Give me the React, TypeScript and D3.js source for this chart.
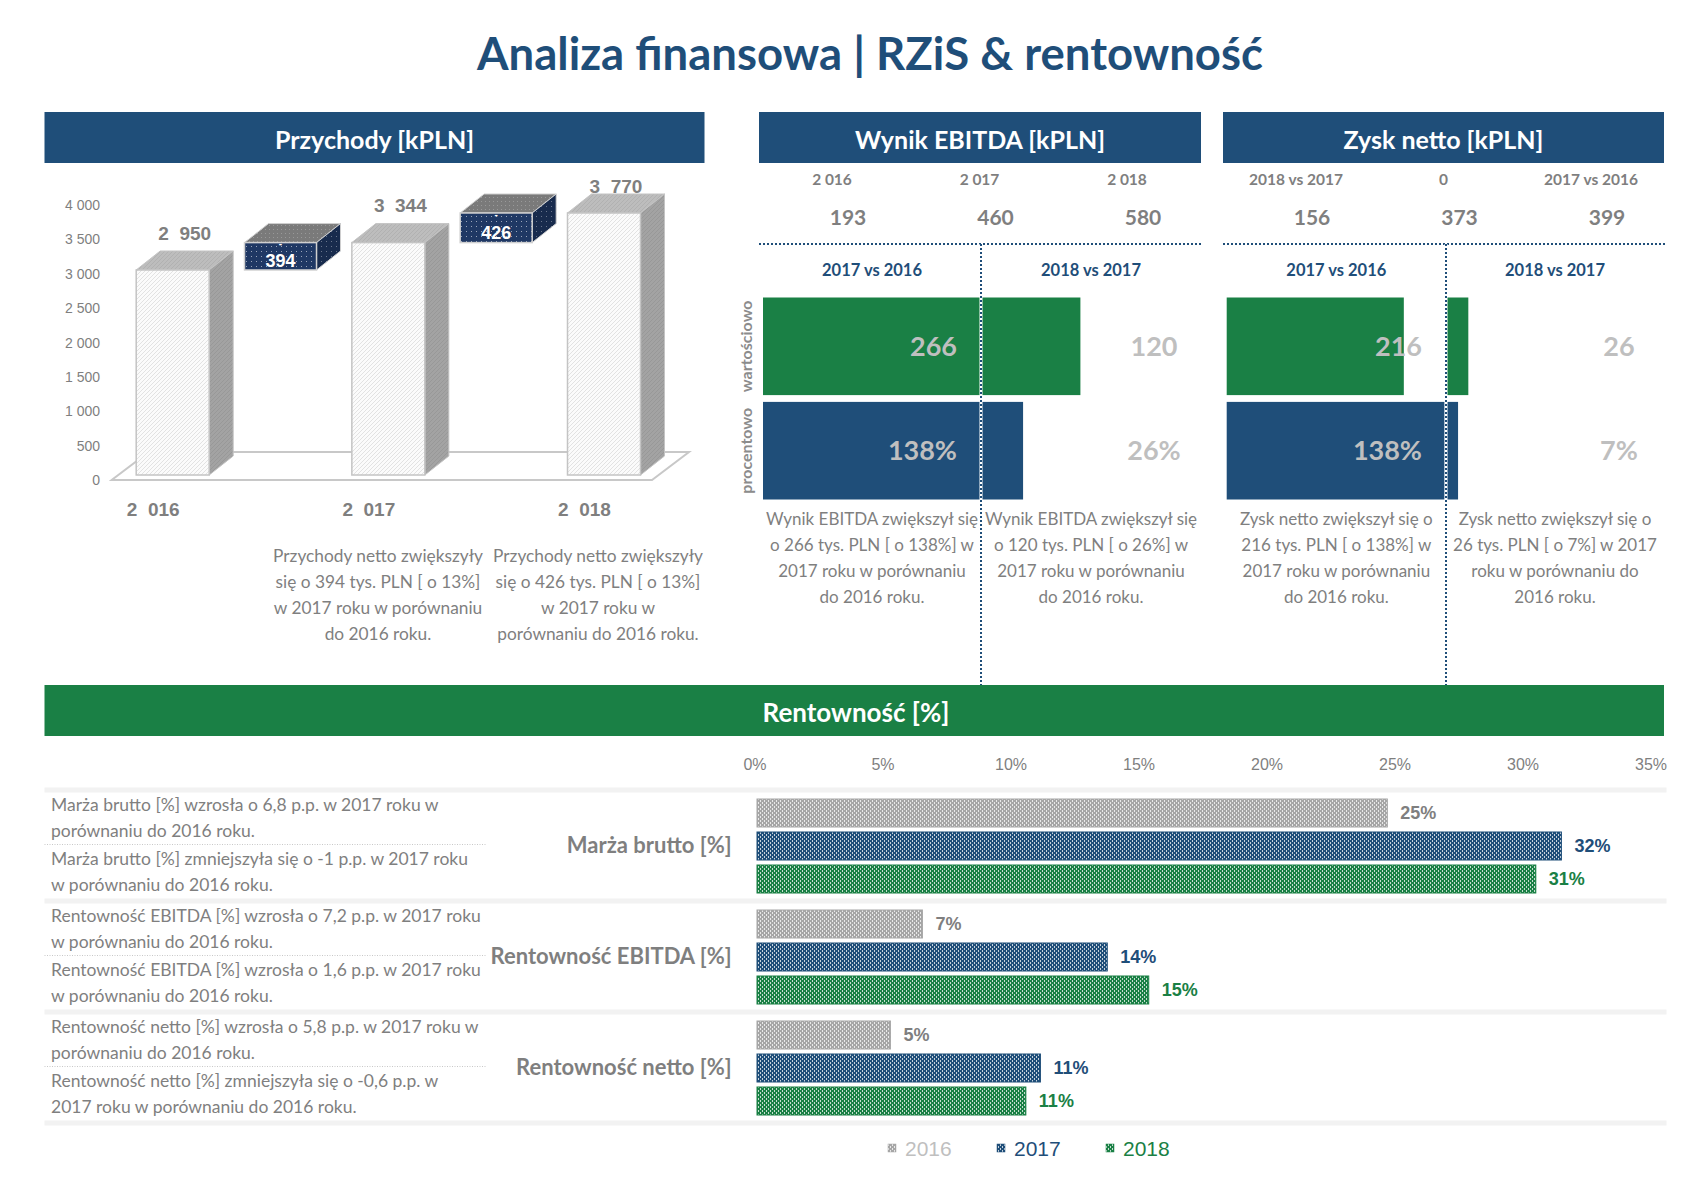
import React from 'react';
import * as d3 from 'd3';

const W = 1702;
const H = 1190;
const NAVY = '#1F4E79';
const DARKNAVY = '#1F3864';
const GREEN = '#1A8045';
const GRAY = '#7F7F7F';
const LIGHT = '#BFBFBF';
const SANS = 'Lato, "Open Sans", sans-serif';
const ARIAL = '"Liberation Sans", Arial, sans-serif';

// ---------- data ----------
const revenueYears = [2016, 2017, 2018];
const revenueValues = [2950, 3344, 3770];
const revenueTicks = [0, 500, 1000, 1500, 2000, 2500, 3000, 3500, 4000];
const revenueComments = [
  ['Przychody netto zwiększyły', 'się o 394 tys. PLN [ o 13%]', 'w 2017 roku w porównaniu', 'do 2016 roku.'],
  ['Przychody netto zwiększyły', 'się o 426 tys. PLN [ o 13%]', 'w 2017 roku w', 'porównaniu do 2016 roku.'],
];

const changePeriods = ['2017 vs 2016', '2018 vs 2017'];
const changeRows = ['wartościowo', 'procentowo'];

const ebitdaColumns = ['2 016', '2 017', '2 018'];
const ebitdaValues = [193, 460, 580];
const ebitdaChangeValue = [266, 120];
const ebitdaChangePct = [138, 26];
const ebitdaComments = [
  ['Wynik EBITDA zwiększył się', 'o 266 tys. PLN [ o 138%] w', '2017 roku w porównaniu', 'do 2016 roku.'],
  ['Wynik EBITDA zwiększył się', 'o 120 tys. PLN [ o 26%] w', '2017 roku w porównaniu', 'do 2016 roku.'],
];

const netColumns = ['2018 vs 2017', '0', '2017 vs 2016'];
const netValues = [156, 373, 399];
const netChangeValue = [216, 26];
const netChangePct = [138, 7];
const netComments = [
  ['Zysk netto zwiększył się o', '216 tys. PLN [ o 138%] w', '2017 roku w porównaniu', 'do 2016 roku.'],
  ['Zysk netto zwiększył się o', '26 tys. PLN [ o 7%] w 2017', 'roku w porównaniu do', '2016 roku.'],
];

const rentCategories = ['Marża brutto [%]', 'Rentowność EBITDA [%]', 'Rentowność netto [%]'];
const rentYears = ['2016', '2017', '2018'];
const rent2016 = [24.7, 6.54, 5.29];
const rent2017 = [31.5, 13.76, 11.15];
const rent2018 = [30.5, 15.38, 10.58];
const rentTicks = [0, 5, 10, 15, 20, 25, 30, 35];
const rentComments = [
  [
    ['Marża brutto [%] wzrosła o 6,8 p.p. w 2017 roku w', 'porównaniu do 2016 roku.'],
    ['Marża brutto [%] zmniejszyła się o -1 p.p. w 2017 roku', 'w porównaniu do 2016 roku.'],
  ],
  [
    ['Rentowność EBITDA [%] wzrosła o 7,2 p.p. w 2017 roku', 'w porównaniu do 2016 roku.'],
    ['Rentowność EBITDA [%] wzrosła o 1,6 p.p. w 2017 roku', 'w porównaniu do 2016 roku.'],
  ],
  [
    ['Rentowność netto [%] wzrosła o 5,8 p.p. w 2017 roku w', 'porównaniu do 2016 roku.'],
    ['Rentowność netto [%] zmniejszyła się o -0,6 p.p. w', '2017 roku w porównaniu do 2016 roku.'],
  ],
];

const rentSeries = [
  { year: rentYears[0], values: rent2016, color: '#A6A6A6', label: GRAY, legend: LIGHT, pat: 'pat16' },
  { year: rentYears[1], values: rent2017, color: NAVY, label: NAVY, legend: NAVY, pat: 'pat17' },
  { year: rentYears[2], values: rent2018, color: GREEN, label: GREEN, legend: GREEN, pat: 'pat18' },
];

const wideFmt = d3.formatLocale({ decimal: ',', thousands: '\u00A0\u00A0', grouping: [3], currency: ['', ''] }).format(',');
const tickFmt = d3.formatLocale({ decimal: ',', thousands: '\u00A0', grouping: [3], currency: ['', ''] }).format(',');

const Txt = (p: any) => {
  const { children, ...rest } = p;
  return (
    <text dy="0.36em" fontFamily={SANS} {...rest}>
      {children}
    </text>
  );
};

// ---------- revenue panel ----------
function RevenuePanel() {
  const yAxis = d3.scaleLinear().domain([0, 4000]).range([480, 205]);
  const yFront = d3.scaleLinear().domain([0, 4000]).range([475, 197]);
  const x = d3.scalePoint<number>().domain(revenueYears).range([172.7, 604]);
  const fw = 73;
  const dx = 24;
  const dy = -19;
  const base = yFront(0);
  const floorL = (x(revenueYears[0]) as number) - 61;
  const floorR = (x(revenueYears[2]) as number) + 48;
  const fy = yAxis(0);

  const box = (cx: number, top: number, bottom: number, w: number, front: string, side: string, topFill: string, stroke: string, key: string) => {
    const x0 = cx - w / 2;
    const x1 = cx + w / 2;
    return (
      <g key={key}>
        <polygon points={`${x0},${top} ${x0 + dx},${top + dy} ${x1 + dx},${top + dy} ${x1},${top}`} fill={topFill} stroke={stroke} strokeWidth={1} />
        <polygon points={`${x1},${top} ${x1 + dx},${top + dy} ${x1 + dx},${bottom + dy} ${x1},${bottom}`} fill={side} stroke={stroke} strokeWidth={1} />
        <rect x={x0} y={top} width={w} height={bottom - top} fill={front} stroke={stroke} strokeWidth={1.5} />
      </g>
    );
  };

  return (
    <g>
      <rect x={44.5} y={112} width={660} height={51} fill={NAVY} />
      <Txt x={374.5} y={140} textAnchor="middle" fill="#fff" fontWeight="bold" fontSize={25}>Przychody [kPLN]</Txt>

      {revenueTicks.map((t) => (
        <text key={t} x={100} y={yAxis(t)} dy="0.36em" textAnchor="end" fontFamily={ARIAL} fontSize={14} fill={GRAY}>
          {tickFmt(t)}
        </text>
      ))}

      <polygon
        points={`${floorL},${fy} ${floorR},${fy} ${floorR + 37},${fy - 28} ${floorL + 37},${fy - 28}`}
        fill="#fff"
        stroke="#C8C8C8"
        strokeWidth={2}
      />

      {revenueValues.map((v, i) => {
        const cx = x(revenueYears[i]) as number;
        return box(cx, yFront(v), base, fw, 'url(#hatchFront)', 'url(#hatchSide)', 'url(#hatchTop)', '#C4C4C4', 'b' + i);
      })}

      {revenueValues.slice(1).map((v, i) => {
        const prev = revenueValues[i];
        const cx = ((x(revenueYears[i]) as number) + (x(revenueYears[i + 1]) as number)) / 2;
        const top = yFront(v);
        const bottom = yFront(prev);
        return (
          <g key={'d' + i}>
            {box(cx, top, bottom, 72, 'url(#dotNavy)', 'url(#dotSide)', 'url(#dotTop)', '#D0D0D0', 'db' + i)}
            <text x={cx} y={top + 1} dy="0.36em" textAnchor="middle" fontFamily={ARIAL} fontWeight="bold" fontSize={10} fill="#fff">-</text>
            <text x={cx} y={(top + bottom) / 2 + 4.5} dy="0.36em" textAnchor="middle" fontFamily={ARIAL} fontWeight="bold" fontSize={18} fill="#fff">
              {v - prev}
            </text>
          </g>
        );
      })}

      {revenueValues.map((v, i) => {
        const cx = x(revenueYears[i]) as number;
        return (
          <text key={'l' + i} x={cx + 12} y={Math.max(yFront(v) - 37, 186)} dy="0.36em" textAnchor="middle" fontFamily={ARIAL} fontWeight="bold" fontSize={19} fill={GRAY}>
            {wideFmt(v)}
          </text>
        );
      })}

      {revenueYears.map((yr, i) => (
        <text key={'y' + i} x={(x(yr) as number) - 19.5} y={509} dy="0.36em" textAnchor="middle" fontFamily={ARIAL} fontWeight="bold" fontSize={19} fill={GRAY}>
          {wideFmt(yr)}
        </text>
      ))}

      {revenueComments.map((lines, j) =>
        lines.map((l, k) => (
          <Txt key={'c' + j + k} x={j === 0 ? 378 : 598} y={556 + k * 26} textAnchor="middle" fontSize={17.3} fill={GRAY}>
            {l}
          </Txt>
        ))
      )}
    </g>
  );
}

// ---------- change panels ----------
function ChangePanel(props: any) {
  const { title, hx0, hx1, left, divider, columns, values, changeValue, changePct, comments, rowLabels } = props;
  const col = d3.scalePoint<number>().domain([0, 1, 2]).range([hx0 + 73, hx0 + 368]);
  const xVal = d3.scaleLinear().domain([0, 400]).range([0, 328]);
  const xPct = d3.scaleLinear().domain([0, 150]).range([0, 237]);
  const yRow = d3.scaleBand().domain(changeRows).range([297.5, 499.5]).paddingInner(0.065);
  const bw = yRow.bandwidth();
  const rowData = [
    { key: changeRows[0], vals: changeValue, scale: xVal, color: GREEN, fmt: (v: number) => `${v}` },
    { key: changeRows[1], vals: changePct, scale: xPct, color: NAVY, fmt: (v: number) => `${v}%` },
  ];
  const colCenters = [(left + divider) / 2, (divider + hx1) / 2];

  return (
    <g>
      <rect x={hx0} y={112} width={hx1 - hx0} height={51} fill={NAVY} />
      <Txt x={(hx0 + hx1) / 2} y={140} textAnchor="middle" fill="#fff" fontWeight="bold" fontSize={25}>{title}</Txt>

      {columns.map((c: string, i: number) => (
        <Txt key={'h' + i} x={col(i)} y={179} textAnchor="middle" fontWeight="bold" fontSize={15.5} fill={GRAY}>{c}</Txt>
      ))}
      {values.map((v: number, i: number) => (
        <Txt key={'v' + i} x={(col(i) as number) + 16} y={217} textAnchor="middle" fontWeight="bold" fontSize={21} fill={GRAY}>{v}</Txt>
      ))}

      <line x1={hx0} x2={hx1 + 2} y1={244} y2={244} stroke={NAVY} strokeWidth={2} strokeDasharray="2,2" />

      {changePeriods.map((p, i) => (
        <Txt key={'p' + i} x={colCenters[i]} y={270} textAnchor="middle" fontWeight="bold" fontSize={16.5} fill={NAVY}>{p}</Txt>
      ))}

      {rowData.map((r) => (
        <g key={r.key}>
          <rect x={left} y={yRow(r.key)} width={r.scale(r.vals[0])} height={bw} fill={r.color} />
          <rect x={divider + 1} y={yRow(r.key)} width={r.scale(r.vals[1])} height={bw} fill={r.color} />
        </g>
      ))}

      <line x1={divider} x2={divider} y1={244} y2={686} stroke="#fff" strokeWidth={3} />
      <line x1={divider} x2={divider} y1={244} y2={686} stroke={NAVY} strokeWidth={2} strokeDasharray="2,2" />

      {rowData.map((r) => {
        const cy = (yRow(r.key) as number) + bw / 2;
        return (
          <g key={'t' + r.key}>
            <Txt x={divider - 24} y={cy} textAnchor="end" fontWeight="bold" fontSize={27} fill={LIGHT}>{r.fmt(r.vals[0])}</Txt>
            <Txt x={divider + 173} y={cy} textAnchor="middle" fontWeight="bold" fontSize={27} fill={LIGHT}>{r.fmt(r.vals[1])}</Txt>
          </g>
        );
      })}

      {rowLabels &&
        changeRows.map((r) => {
          const cy = (yRow(r) as number) + bw / 2;
          return (
            <text key={'rl' + r} transform={`translate(746,${cy}) rotate(-90)`} dy="0.36em" textAnchor="middle" fontFamily={SANS} fontWeight="bold" fontSize={16} fill="#8C8C8C">
              {r}
            </text>
          );
        })}

      {comments.map((lines: string[], j: number) =>
        lines.map((l, k) => (
          <Txt key={'c' + j + k} x={colCenters[j]} y={518.5 + k * 26} textAnchor="middle" fontSize={17} fill={GRAY}>{l}</Txt>
        ))
      )}
    </g>
  );
}

// ---------- profitability panel ----------
function RentPanel() {
  const x = d3.scaleLinear().domain([0, 35]).range([755, 1651]);
  const yG = d3.scaleBand().domain(rentCategories).range([790, 1123]);
  const yIn = d3.scaleBand().domain(rentYears).range([9, 103]).paddingInner(5 / 33);
  const step = yG.step();
  const seps = [...rentCategories.map((c) => yG(c) as number), 1123];

  return (
    <g>
      <rect x={44.5} y={685} width={1619.5} height={51} fill={GREEN} />
      <Txt x={856} y={713} textAnchor="middle" fill="#fff" fontWeight="bold" fontSize={26}>Rentowność [%]</Txt>

      {rentTicks.map((t) => (
        <text key={t} x={x(t)} y={764} dy="0.36em" textAnchor="middle" fontFamily={ARIAL} fontSize={16} fill={GRAY}>{t}%</text>
      ))}

      {seps.map((s, i) => (
        <rect key={'s' + i} x={44.5} y={s - 2.5} width={1622} height={5} fill="#F2F2F2" />
      ))}

      {rentCategories.map((c, ci) => {
        const g0 = yG(c) as number;
        return (
          <g key={c}>
            <Txt x={731.6} y={g0 + step / 2} textAnchor="end" fontWeight="bold" fontSize={22} fill={GRAY}>{c}</Txt>
            <line x1={44.5} x2={486} y1={g0 + 54.5} y2={g0 + 54.5} stroke="#C8C8C8" strokeWidth={1} strokeDasharray="1,1.5" />
            {rentComments[ci].map((lines, j) =>
              lines.map((l, k) => (
                <Txt key={'rc' + j + k} x={51} y={g0 + 14.4 + j * 54.2 + k * 26} fontSize={17.5} fill={GRAY}>{l}</Txt>
              ))
            )}
            {rentSeries.map((s) => {
              const v = s.values[ci];
              const by = g0 + (yIn(s.year) as number);
              const bh = yIn.bandwidth();
              return (
                <g key={s.year}>
                  <rect x={x(0) + 2} y={by} width={x(v) - x(0) - 2} height={bh} fill={`url(#${s.pat})`} stroke={s.color} strokeWidth={1} />
                  <text x={x(v) + 13} y={by + bh / 2} dy="0.36em" fontFamily={ARIAL} fontWeight="bold" fontSize={18} fill={s.label}>
                    {Math.round(v)}%
                  </text>
                </g>
              );
            })}
          </g>
        );
      })}

      {rentSeries.map((s, i) => {
        const lx = 888 + i * 109;
        return (
          <g key={'lg' + s.year}>
            <rect x={lx} y={1144} width={8} height={8} fill={`url(#${s.pat})`} stroke={s.color} strokeWidth={0.5} />
            <text x={lx + 17} y={1148} dy="0.36em" fontFamily={ARIAL} fontSize={21} fill={s.legend}>{s.year}</text>
          </g>
        );
      })}
    </g>
  );
}

function Patterns() {
  const dash = (id: string, color: string) => (
    <pattern id={id} width={4} height={4} patternUnits="userSpaceOnUse">
      <rect width={4} height={4} fill={color} />
      <rect x={0} y={0} width={1} height={2} fill="#fff" opacity={0.75} />
      <rect x={2} y={2} width={1} height={2} fill="#fff" opacity={0.75} />
    </pattern>
  );
  return (
    <defs>
      <pattern id="hatchFront" width={4} height={4} patternUnits="userSpaceOnUse">
        <rect width={4} height={4} fill="#FBFBFB" />
        <path d="M-1,1 L1,-1 M0,4 L4,0 M3,5 L5,3" stroke="#DCDCDC" strokeWidth={0.8} />
      </pattern>
      <pattern id="hatchSide" width={4} height={4} patternUnits="userSpaceOnUse">
        <rect width={4} height={4} fill="#A3A3A3" />
        <path d="M-1,1 L1,-1 M0,4 L4,0 M3,5 L5,3" stroke="#959595" strokeWidth={0.8} />
      </pattern>
      <pattern id="hatchTop" width={4} height={4} patternUnits="userSpaceOnUse">
        <rect width={4} height={4} fill="#BDBDBD" />
        <path d="M-1,1 L1,-1 M0,4 L4,0 M3,5 L5,3" stroke="#ADADAD" strokeWidth={0.8} />
      </pattern>
      <pattern id="dotNavy" width={5} height={5} patternUnits="userSpaceOnUse">
        <rect width={5} height={5} fill={DARKNAVY} />
        <rect x={1} y={1} width={1} height={1} fill="#fff" opacity={0.55} />
      </pattern>
      <pattern id="dotSide" width={5} height={5} patternUnits="userSpaceOnUse">
        <rect width={5} height={5} fill="#182B4D" />
        <rect x={1} y={1} width={1} height={1} fill="#fff" opacity={0.35} />
      </pattern>
      <pattern id="dotTop" width={4} height={4} patternUnits="userSpaceOnUse">
        <rect width={4} height={4} fill="#7A7A7A" />
        <rect x={1} y={1} width={1} height={1} fill="#999" />
      </pattern>
      {dash('pat16', '#A6A6A6')}
      {dash('pat17', NAVY)}
      {dash('pat18', GREEN)}
    </defs>
  );
}

export default function App() {
  return (
    <svg width={W} height={H} style={{ position: 'absolute', left: 0, top: 0, background: '#fff' }}>
      <Patterns />
      <rect width={W} height={H} fill="#fff" />
      <text x={870} y={70} textAnchor="middle" fontFamily={SANS} fontWeight="bold" fontSize={45.5} fill={NAVY}>
        Analiza finansowa | RZiS &amp; rentowność
      </text>
      <RevenuePanel />
      <ChangePanel
        title="Wynik EBITDA [kPLN]"
        hx0={759}
        hx1={1201}
        left={763}
        divider={981}
        columns={ebitdaColumns}
        values={ebitdaValues}
        changeValue={ebitdaChangeValue}
        changePct={ebitdaChangePct}
        comments={ebitdaComments}
        rowLabels
      />
      <ChangePanel
        title="Zysk netto [kPLN]"
        hx0={1223}
        hx1={1664}
        left={1226.7}
        divider={1446}
        columns={netColumns}
        values={netValues}
        changeValue={netChangeValue}
        changePct={netChangePct}
        comments={netComments}
        rowLabels={false}
      />
      <RentPanel />
    </svg>
  );
}
